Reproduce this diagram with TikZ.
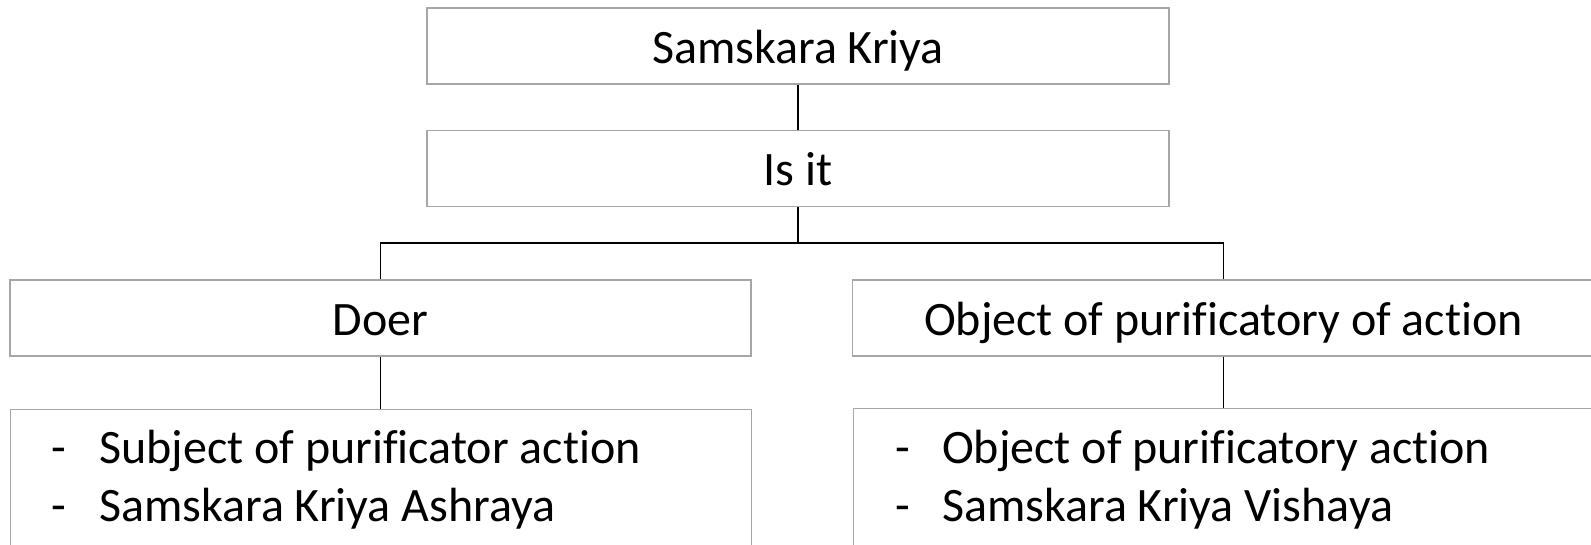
\documentclass[tikz,border=0pt]{standalone}
\usepackage{fontspec}
\setmainfont[Ligatures=NoCommon]{Carlito}
\newcommand{\diafont}{\fontsize{48}{58}\selectfont}
\begin{document}
\begin{tikzpicture}[x=1pt,y=1pt,
  box/.style={draw=boxgray, line width=1.3pt, fill=white, inner sep=0pt,
    minimum width=742pt, minimum height=76pt,
    text height=55pt, text depth=21pt, font=\diafont},
  listbox/.style={draw=boxgray, line width=1.3pt, fill=white, inner sep=0pt,
    minimum width=742pt, minimum height=160pt, anchor=north west},
  item/.style={anchor=base west, inner sep=0pt, font=\diafont},
  conn/.style={draw=black, line width=1.3pt}]
\definecolor{boxgray}{RGB}{166,166,166}
\useasboundingbox (0,0) rectangle (1591,-544);
\fill[white] (0,0) rectangle (1591,-544);
% nodes
\node[box] (top) at (798,-46) {Samskara Kriya};
\node[box] (isit) at (798,-168.5) {Is it};
\node[box, minimum width=741pt] (doer) at (380.5,-318) {Doer};
\node[box] (obj) at (1223.5,-318) {Object of purificatory of action};
\node[listbox, minimum width=741pt] (bl) at (10,-409) {};
\node[listbox] (br) at (852.5,-407.5) {};
% list text
\node[item] (bl1d) at (51,-463) {-};
\node[item] (bl1) at (99,-463) {Subject of purificator action};
\node[item] (bl2d) at (51,-521) {-};
\node[item] (bl2) at (99,-521) {Samskara Kriya Ashraya};
\node[item] (br1d) at (895,-463) {-};
\node[item] (br1) at (942,-463) {Object of purificatory action};
\node[item] (br2d) at (895,-521) {-};
\node[item] (br2) at (942,-521) {Samskara Kriya Vishaya};
% connectors
\coordinate (hub) at (isit.south |- 0,-243);
\draw[conn] (top.south) -- (isit.north);
\draw[conn] (isit.south) -- (hub);
\draw[conn] (doer.north) |- (hub) -| (obj.north);
\draw[conn] (doer.south) -- (bl.north -| doer.south);
\draw[conn] (obj.south) -- (br.north -| obj.south);
\end{tikzpicture}
\end{document}
